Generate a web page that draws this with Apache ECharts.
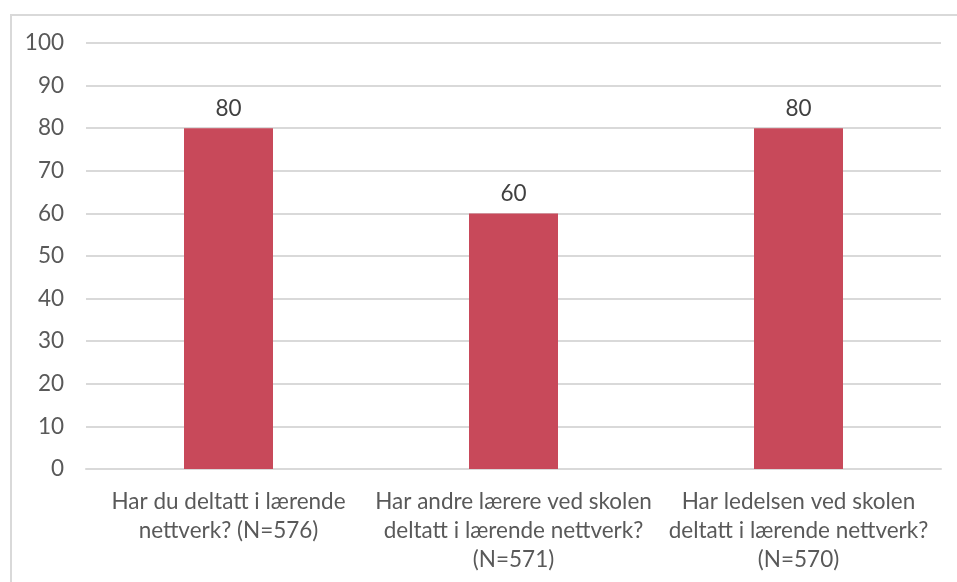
<!DOCTYPE html>
<html><head><meta charset="utf-8">
<script src="https://cdn.jsdelivr.net/npm/echarts@6/dist/echarts.min.js"></script>
<style>html,body{margin:0;padding:0;background:#fff}#frame{position:absolute;left:10px;top:14px;width:960px;height:580px;border:2px solid #D9D9D9;box-sizing:border-box}#c{position:absolute;left:0;top:0;width:957px;height:582px}</style>
</head><body><div id="frame"></div><div id="c"></div>
<script>
const categories = ['Har du deltatt i lærende\nnettverk? (N=576)', 'Har andre lærere ved skolen\ndeltatt i lærende nettverk?\n(N=571)', 'Har ledelsen ved skolen\ndeltatt i lærende nettverk?\n(N=570)'];
const values = [80, 60, 80];
const yTicks = {min: 0, max: 100, interval: 10};
const chart = echarts.init(document.getElementById('c'));
const font = 'Lato';
chart.setOption({
  animation: false,
  grid: {left: 86, right: 16, top: 43, bottom: 113, containLabel: false},
  xAxis: {type: 'category', data: categories,
    axisLine: {lineStyle: {color: '#D9D9D9', width: 2}}, axisTick: {show: false},
    axisLabel: {color: '#595959', fontFamily: font, fontSize: 22.5, lineHeight: 29, margin: 18, interval: 0}},
  yAxis: {type: 'value', min: yTicks.min, max: yTicks.max, interval: yTicks.interval,
    axisLine: {show: false}, axisTick: {show: false},
    splitLine: {lineStyle: {color: '#D9D9D9', width: 2}},
    axisLabel: {color: '#595959', fontFamily: font, fontSize: 22.5, margin: 22}},
  series: [{type: 'bar', data: values, barWidth: 89,
    itemStyle: {color: '#C8495A'},
    label: {show: true, position: 'top', color: '#404040', fontFamily: font, fontSize: 22.5, distance: 8}}]
});
</script></body></html>
